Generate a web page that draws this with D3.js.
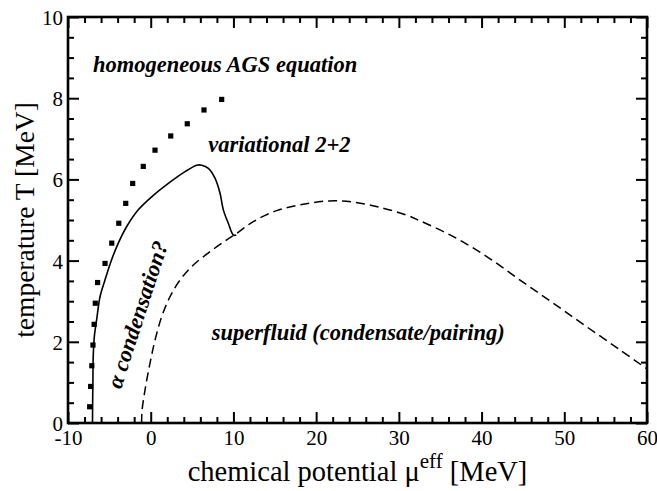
<!DOCTYPE html>
<html lang="en">

<head>
    <meta charset="UTF-8">
    <title>alpha condensation phase diagram</title>
    <script src="https://cdn.jsdelivr.net/npm/d3@7"></script>
    <style>
        body {
            margin: 0;
            background: #fff;
        }

        svg {
            display: block;
            font-family: "Liberation Serif", "Times New Roman", serif;
        }
    </style>
</head>

<body>
    <script>
        'use strict';

        // tick values
        var xMajor = [-10, 0, 10, 20, 30, 40, 50, 60];
        var yMajor = [0, 2, 4, 6, 8, 10];

        // homogeneous AGS equation (dotted)
        var agsMu = [-7.38, -7.26, -7.12, -6.98, -6.84, -6.70, -6.42, -5.52, -4.71, -3.86, -3.02, -2.18, -0.90, 0.52, 2.42, 4.42, 6.44, 8.58];
        var agsT = [0.40, 0.90, 1.41, 1.92, 2.43, 2.95, 3.46, 3.93, 4.43, 4.92, 5.41, 5.90, 6.32, 6.72, 7.07, 7.37, 7.71, 7.97];

        // variational 2+2 (solid)
        var varMu = [-7.04, -7.02, -6.99, -6.94, -6.78, -6.53, -6.13, -5.53, -4.75, -3.92, -2.90, -1.50, 0.12, 2.13, 4.15, 5.56, 6.17, 6.97, 7.77, 8.38, 8.78, 9.38, 9.99, 10.35];
        var varT = [0, 0.5, 1.0, 1.7, 2.2, 2.55, 3.11, 3.52, 4.01, 4.43, 4.84, 5.25, 5.57, 5.90, 6.19, 6.35, 6.35, 6.27, 6.03, 5.66, 5.25, 4.92, 4.63, 4.63];

        // superfluid boundary (dashed)
        var sfMu = [-1.10, -1.05, -0.69, -0.09, 0.52, 1.33, 2.33, 3.54, 5.15, 7.17, 9.19, 10.40, 12.40, 15.23, 18.45, 21.68, 24.49, 27.72, 30.95, 32.56, 36.59, 40.62, 44.65, 48.68, 52.71, 56.74, 60.00];
        var sfT = [0, 0.30, 0.81, 1.47, 2.04, 2.62, 3.11, 3.52, 3.89, 4.22, 4.51, 4.67, 4.96, 5.23, 5.39, 5.47, 5.44, 5.31, 5.12, 4.98, 4.59, 4.10, 3.52, 2.95, 2.37, 1.80, 1.33];

        var w = 657,
            h = 491;
        var serif = '"Liberation Serif", "Times New Roman", serif';

        var osvg = d3.select('body')
            .append('svg')
            .attr('width', w)
            .attr('height', h);

        var xsc = d3.scaleLinear().domain([-10, 60]).range([68, 647]);
        var ysc = d3.scaleLinear().domain([0, 10]).range([423, 17]);

        var xMinor = d3.range(-10, 61, 2).filter(v => xMajor.indexOf(v) < 0);
        var yMinor = d3.range(0, 10.01, 0.5).filter(v => yMajor.indexOf(v) < 0);

        function addAxis(axisFn, scale, major, minor, tx, ty, labels) {
            var gMin = osvg.append('g')
                .attr('transform', 'translate(' + tx + ',' + ty + ')')
                .call(axisFn(scale).tickValues(minor).tickSize(-6).tickSizeOuter(0).tickFormat(''));
            var gMaj = osvg.append('g')
                .attr('transform', 'translate(' + tx + ',' + ty + ')')
                .call(axisFn(scale).tickValues(major).tickSize(-11).tickSizeOuter(0)
                    .tickPadding(axisFn === d3.axisBottom ? 7 : 5)
                    .tickFormat(labels ? (d => String(d)) : ''));
            [gMin, gMaj].forEach(g => {
                g.attr('font-family', serif).attr('font-size', 21);
                g.select('.domain').remove();
                g.selectAll('.tick line').attr('stroke', '#000').attr('stroke-width', 2);
                g.selectAll('.tick text')
                    .attr('fill', '#000')
                    .style('font-family', serif)
                    .style('font-size', '21px');
            });
            return gMaj;
        }

        addAxis(d3.axisBottom, xsc, xMajor, xMinor, 0, 423, true);
        addAxis(d3.axisTop, xsc, xMajor, xMinor, 0, 17, false);
        var yl = addAxis(d3.axisLeft, ysc, yMajor, yMinor, 68, 0, true);
        yl.selectAll('.tick text').attr('dy', '0.36em');
        addAxis(d3.axisRight, ysc, yMajor, yMinor, 647, 0, false);

        // frame
        osvg.append('rect')
            .attr('x', xsc(-10))
            .attr('y', ysc(10))
            .attr('width', xsc(60) - xsc(-10))
            .attr('height', ysc(0) - ysc(10))
            .attr('fill', 'none')
            .attr('stroke', '#000')
            .attr('stroke-width', 2.6);

        var line = d3.line()
            .x(d => xsc(d[0]))
            .y(d => ysc(d[1]))
            .curve(d3.curveCatmullRom);

        // superfluid dashed
        osvg.append('path')
            .datum(d3.zip(sfMu, sfT))
            .attr('d', line)
            .attr('fill', 'none')
            .attr('stroke', '#000')
            .attr('stroke-width', 1.5)
            .attr('stroke-dasharray', '9,5');

        // variational solid
        osvg.append('path')
            .datum(d3.zip(varMu, varT))
            .attr('d', line)
            .attr('fill', 'none')
            .attr('stroke', '#000')
            .attr('stroke-width', 1.6);

        // AGS dots
        osvg.append('g')
            .selectAll('rect')
            .data(d3.zip(agsMu, agsT))
            .enter()
            .append('rect')
            .attr('x', d => xsc(d[0]) - 2.6)
            .attr('y', d => ysc(d[1]) - 2.6)
            .attr('width', 5.2)
            .attr('height', 5.2)
            .attr('fill', '#000');

        // annotations
        var notes = osvg.append('g')
            .style('font-weight', 'bold')
            .style('font-style', 'italic')
            .style('font-size', '22.5px');

        notes.append('text').attr('x', xsc(-6.98)).attr('y', ysc(8.65)).text('homogeneous AGS equation');
        notes.append('text').attr('x', xsc(6.96)).attr('y', ysc(6.68)).text('variational 2+2');
        notes.append('text').attr('x', xsc(7.37)).attr('y', ysc(2.04)).text('superfluid (condensate/pairing)');
        notes.append('text')
            .attr('transform', 'translate(' + xsc(-3.6) + ',' + ysc(0.82) + ') rotate(-72)')
            .text('α condensation?');

        // axis titles
        var xt = osvg.append('text')
            .attr('x', (xsc(-10) + xsc(60)) / 2)
            .attr('y', 481)
            .attr('text-anchor', 'middle')
            .style('font-size', '28.5px');
        xt.append('tspan').text('chemical potential μ');
        xt.append('tspan').attr('dy', -13).style('font-size', '21px').text('eff');
        xt.append('tspan').attr('dy', 13).text(' [MeV]');

        osvg.append('text')
            .attr('transform', 'translate(33.5,' + (ysc(0) + ysc(10)) / 2 + ') rotate(-90)')
            .attr('text-anchor', 'middle')
            .style('font-size', '27.5px')
            .text('temperature T [MeV]');
    </script>
</body>

</html>
